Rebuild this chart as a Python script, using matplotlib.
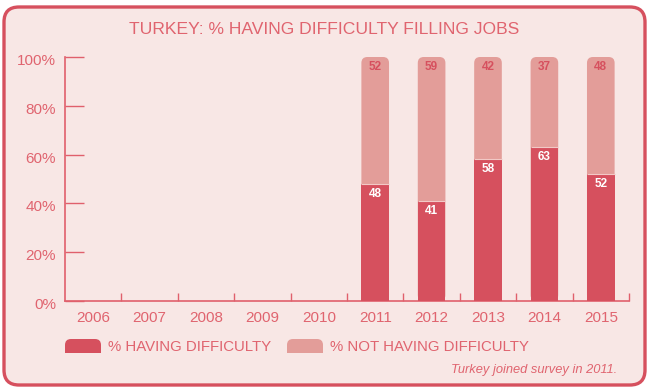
import matplotlib
matplotlib.use("Agg")
import matplotlib.pyplot as plt
from matplotlib.patches import FancyBboxPatch, Rectangle
from matplotlib.transforms import IdentityTransform, ScaledTranslation, blended_transform_factory

# Survey data
years = ["2006", "2007", "2008", "2009", "2010", "2011", "2012", "2013", "2014", "2015"]
survey_years = ["2011", "2012", "2013", "2014", "2015"]
having_difficulty = [48, 41, 58, 63, 52]
not_having_difficulty = [52, 59, 42, 37, 48]
y_ticks = [0, 20, 40, 60, 80, 100]

title = "TURKEY: % HAVING DIFFICULTY FILLING JOBS"
legend_labels = ["% HAVING DIFFICULTY", "% NOT HAVING DIFFICULTY"]
footnote = "Turkey joined survey in 2011."

BG = "#F8E7E5"
DARK = "#D6505E"
LIGHT = "#E39D99"
TEXT = "#E0646F"
AXIS = "#E0606C"
FONT = "Liberation Sans"

W, H, DPI = 648, 387, 100
fig = plt.figure(figsize=(W / DPI, H / DPI), dpi=DPI)
fig.patch.set_facecolor("white")

# Rounded panel frame (pixel coordinates), kept behind the axes
frame = FancyBboxPatch((4, 2), 641, 378, boxstyle="round,pad=0,rounding_size=15",
                       transform=IdentityTransform(), facecolor=BG, edgecolor=DARK,
                       linewidth=2.4, zorder=-5)
fig.patches.append(frame)

ax_l, ax_b, ax_w, ax_h = 65, 387 - 301, 564, 244
ax = fig.add_axes([ax_l / W, ax_b / H, ax_w / W, ax_h / H])
ax.set_zorder(1)
ax.set_facecolor("none")
ax.set_xlim(-0.5, len(years) - 0.5)
ax.set_ylim(0, 100)

for side in ["top", "right"]:
    ax.spines[side].set_visible(False)
for side in ["left", "bottom"]:
    ax.spines[side].set_color(AXIS)
    ax.spines[side].set_linewidth(1.2)

# x: boundary ticks pointing up, labels at category centres
ax.set_xticks([i + 0.5 for i in range(len(years))])
ax.set_xticklabels([])
ax.tick_params(axis="x", which="major", direction="in", length=6, width=1.0, color=AXIS)
ax.set_xticks(range(len(years)), minor=True)
ax.set_xticklabels(years, minor=True, fontsize=11, color=TEXT, family=FONT)
ax.tick_params(axis="x", which="minor", length=0, pad=7)

# y: long inward ticks, labels drawn slightly below each tick
ax.set_yticks(y_ticks)
ax.set_yticklabels([])
ax.tick_params(axis="y", direction="in", length=14, width=1.0, color=AXIS)
ylab_tr = blended_transform_factory(ax.transAxes, ax.transData) + \
    ScaledTranslation(-9 / DPI, -4 / DPI, fig.dpi_scale_trans)
for v in y_ticks:
    ax.text(0, v, f"{v}%", transform=ylab_tr, ha="right", va="center",
            fontsize=11, color=TEXT, family=FONT)

# Bars: rounded light column behind, dark segment on top of its base
bar_w = 0.49
radius_px = 6
px_per_x = ax_w / (len(years))
px_per_y = ax_h / 100
r_x = radius_px / px_per_x
aspect = (radius_px / px_per_y) / r_x
shift = ScaledTranslation(0, -4 / DPI, fig.dpi_scale_trans)
for yr, dval, lval in zip(survey_years, having_difficulty, not_having_difficulty):
    x = years.index(yr)
    total = dval + lval
    ax.add_patch(FancyBboxPatch((x - bar_w / 2, 0), bar_w, total,
                                boxstyle=f"round,pad=0,rounding_size={r_x}",
                                mutation_aspect=aspect, facecolor=LIGHT,
                                edgecolor="none", zorder=2))
    ax.add_patch(Rectangle((x - bar_w / 2, 0), bar_w, dval, facecolor=DARK,
                           edgecolor="none", zorder=3))
    ax.plot([x - bar_w / 2, x + bar_w / 2], [dval, dval], color="#F2C9C6",
            linewidth=0.8, zorder=4, solid_capstyle="butt")
    ax.text(x, total, str(lval), ha="center", va="top", fontsize=8.5,
            fontweight="bold", color=DARK, family=FONT, zorder=5,
            transform=ax.transData + shift)
    ax.text(x, dval, str(dval), ha="center", va="top", fontsize=8.5,
            fontweight="bold", color="white", family=FONT, zorder=5,
            transform=ax.transData + shift)

# Title
fig.text(324 / W, 1 - 30 / H, title, ha="center", va="center", fontsize=12.6,
         color=TEXT, family=FONT)


# Legend with bar-top shaped swatches (pixel coordinates)
def swatch(x0, color):
    y0 = H - 353
    fig.patches.append(FancyBboxPatch((x0, y0), 36, 14,
                                      boxstyle="round,pad=0,rounding_size=6",
                                      transform=IdentityTransform(), facecolor=color,
                                      edgecolor="none", zorder=2))
    fig.patches.append(Rectangle((x0, y0), 36, 7, transform=IdentityTransform(),
                                 facecolor=color, edgecolor="none", zorder=2))


swatch(65, DARK)
fig.text(108 / W, 1 - 347 / H, legend_labels[0], ha="left", va="center",
         fontsize=10.8, color=TEXT, family=FONT)
swatch(287, LIGHT)
fig.text(330 / W, 1 - 347 / H, legend_labels[1], ha="left", va="center",
         fontsize=10.8, color=TEXT, family=FONT)

fig.text(617 / W, 1 - 370 / H, footnote, ha="right", va="center", fontsize=9.3,
         style="italic", color=TEXT, family=FONT)

fig.savefig("out.png", dpi=DPI, facecolor="white")
